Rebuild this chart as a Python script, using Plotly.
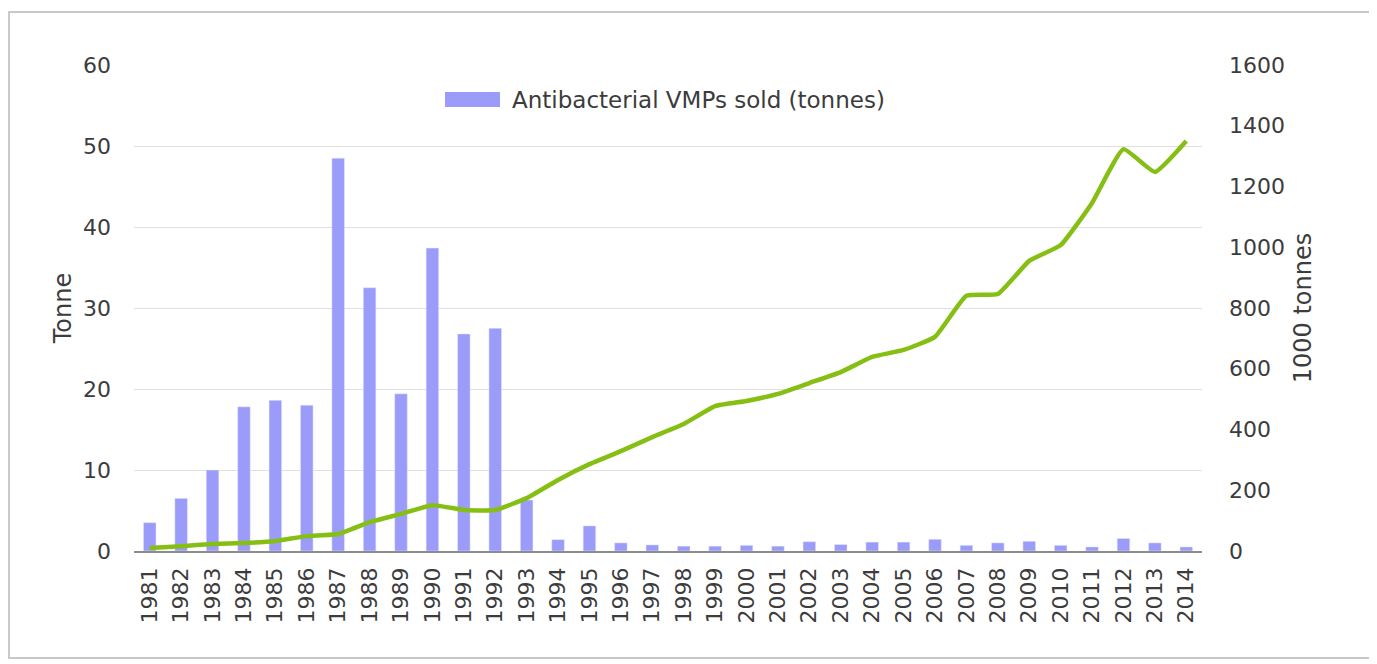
import plotly.graph_objects as go

years = [str(y) for y in range(1981, 2015)]
vmp_tonnes = [3.5, 6.5, 10.0, 17.8, 18.6, 18.0, 48.5, 32.5, 19.4, 37.4, 26.8, 27.5, 6.3,
              1.4, 3.1, 1.0, 0.75, 0.6, 0.6, 0.7, 0.6, 1.15, 0.8, 1.1, 1.1, 1.45,
              0.7, 1.0, 1.2, 0.7, 0.5, 1.55, 1.0, 0.5]
production_1000t = [10, 16, 23, 26, 33, 49, 56, 95, 122, 151, 135, 135, 174, 234, 286,
                    329, 375, 418, 477, 494, 517, 553, 589, 639, 662, 705, 840, 846,
                    955, 1007, 1146, 1323, 1248, 1350]
legend_label = "Antibacterial VMPs sold (tonnes)"

font = "DejaVu Sans"
bar_color = "#9b9bfa"
fig = go.Figure()
fig.add_trace(go.Bar(x=years, y=vmp_tonnes, name=legend_label, showlegend=False,
                     marker_color=bar_color, yaxis="y"))
fig.add_trace(go.Scatter(x=years, y=production_1000t, mode="lines", showlegend=False,
                         line=dict(color="#86bf14", width=4.5, shape="spline", smoothing=0.4),
                         yaxis="y2"))

fig.update_layout(
    width=1377, height=664,
    margin=dict(l=126, r=183, t=57, b=121),
    paper_bgcolor="white", plot_bgcolor="white",
    font=dict(family=font, size=22, color="#3c3c3c"),
    bargap=0.6,
    showlegend=False,
    xaxis=dict(type="category", tickangle=-90, showgrid=False, showline=True,
               linecolor="#8c8c8c", linewidth=1.5, ticks="", tickfont=dict(size=22),
               ticklabelstandoff=6),
    yaxis=dict(range=[0, 60], dtick=10, showgrid=True, gridcolor="#e0e0e0", zeroline=False,
               title=dict(text="Tonne", standoff=4, font=dict(size=24)), ticks="",
               ticklabelstandoff=22),
    yaxis2=dict(range=[0, 1600], dtick=200, overlaying="y", side="right", showgrid=False,
                zeroline=False, title=dict(text="1000 tonnes", standoff=10, font=dict(size=24)),
                ticks="", ticklabelstandoff=26),
)
# legend swatch and label
fig.add_shape(type="rect", xref="paper", yref="paper", x0=0.2912, x1=0.3427, y0=0.9136, y1=0.9444,
              line=dict(width=0), fillcolor=bar_color)
fig.add_annotation(text=legend_label, xref="paper", yref="paper", x=0.352, y=0.928,
                   xanchor="left", yanchor="middle", showarrow=False,
                   font=dict(size=23, color="#3c3c3c"))
# outer frame
fig.add_shape(type="rect", xref="paper", yref="paper", x0=-0.1170, x1=1.1573, y0=-0.2202, y1=1.109,
              line=dict(color="#c8c8c8", width=2), layer="below")
fig.write_html("out.html")
